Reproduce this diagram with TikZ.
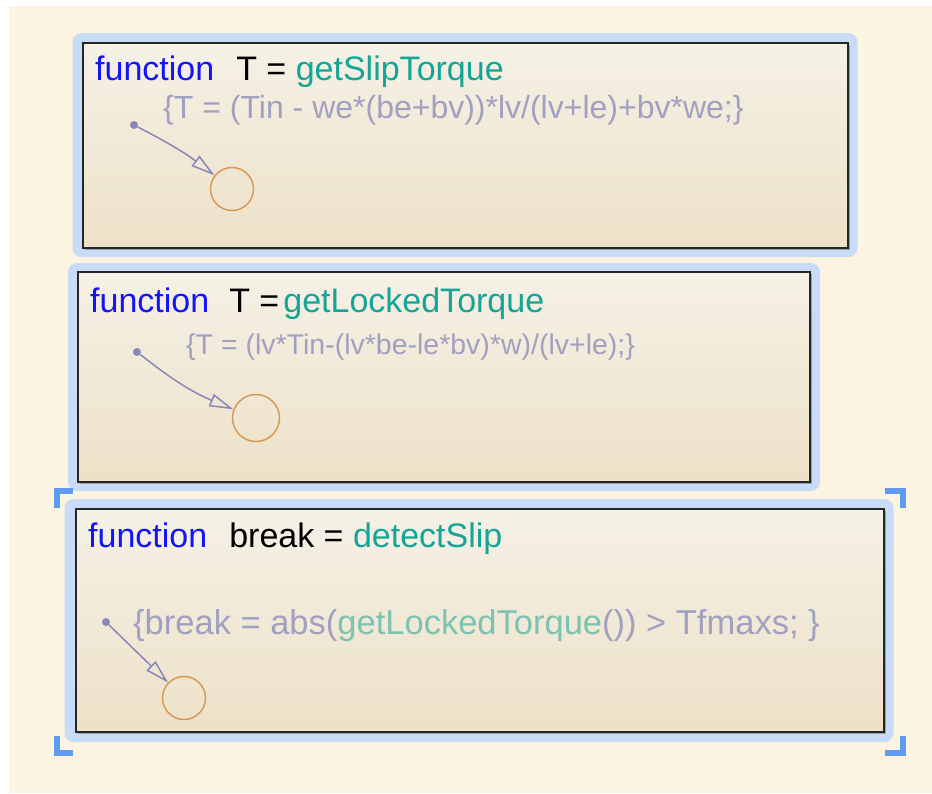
\documentclass[tikz,border=0pt]{standalone}
\usepackage{fontspec}
\setmainfont{Liberation Sans}
\definecolor{cream}{RGB}{253,243,225}
\definecolor{halo}{RGB}{200,220,247}
\definecolor{boxtop}{RGB}{245,241,230}
\definecolor{boxbot}{RGB}{237,225,200}
\definecolor{fnblue}{RGB}{20,20,250}
\definecolor{fnteal}{RGB}{20,165,150}
\definecolor{codegray}{RGB}{160,160,192}
\definecolor{codeteal}{RGB}{125,195,178}
\definecolor{stateorange}{RGB}{215,150,80}
\definecolor{arrowgray}{RGB}{135,135,185}
\definecolor{selblue}{RGB}{95,155,240}
\usetikzlibrary{positioning,shapes,arrows.meta,shadows}

\begin{document}
\begin{tikzpicture}[
    x=1pt, y=-1pt,
    halo/.style={rectangle, fill=halo, rounded corners=9pt, inner sep=0pt},
    fnbox/.style={rectangle, draw=black!85, line width=1.6pt, top color=boxtop, bottom color=boxbot, inner sep=0pt,
        drop shadow={shadow xshift=2pt, shadow yshift=-2pt, fill=black!45, opacity=.8}},
    title/.style={anchor=base west, inner sep=0pt, font=\fontsize{34}{34}\selectfont},
    code/.style={anchor=base west, inner sep=0pt, text=codegray},
    state/.style={circle, draw=stateorange, line width=1.4pt, minimum size=43pt, inner sep=0pt},
    initdot/.style={circle, fill=arrowgray, minimum size=8pt, inner sep=0pt},
    trans/.style={draw=arrowgray, line width=1.5pt, -{Triangle[open,length=24pt,width=13pt]}},
    selmark/.style={draw=selblue, line width=6pt}
]
\useasboundingbox (0,0) rectangle (932,793);
\fill[cream] (9,6) rectangle (932,793);

% getSlipTorque
\node[halo, minimum width=785pt, minimum height=224pt] (halo1) at (465,145) {};
\node[fnbox, minimum width=765pt, minimum height=205pt] (slip) at (465.5,145.5) {};
\node[title] (slipT) at (95,80) {\textcolor{fnblue}{function}\hspace{22pt}T = \textcolor{fnteal}{getSlipTorque}};
\node[code, font=\fontsize{32}{32}\selectfont] (slipC) at (163,118) {\{T = (Tin - we*(be+bv))*lv/(lv+le)+bv*we;\}};
\node[initdot] (dot1) at (134,125) {};
\node[state] (s1) at (232,189) {};
\draw[trans] (dot1) to[bend left=5] (s1);

% getLockedTorque
\node[halo, minimum width=752pt, minimum height=228pt] (halo2) at (444,377) {};
\node[fnbox, minimum width=732pt, minimum height=210pt] (locked) at (444,377) {};
\node[title] (lockedT) at (90,312) {\textcolor{fnblue}{function}\hspace{20pt}T =\hspace{4pt}\textcolor{fnteal}{getLockedTorque}};
\node[code, font=\fontsize{28.5}{28.5}\selectfont] (lockedC) at (186,354) {\{T = (lv*Tin-(lv*be-le*bv)*w)/(lv+le);\}};
\node[initdot] (dot2) at (137,352) {};
\node[state, minimum size=47pt] (s2) at (256,418) {};
\draw[trans] (dot2) to[bend right=8] (s2);

% detectSlip
\node[halo, minimum width=829pt, minimum height=243pt] (halo3) at (479,620.5) {};
\node[fnbox, minimum width=808pt, minimum height=223pt] (detect) at (480,620.5) {};
\node[title] (detectT) at (88,547) {\textcolor{fnblue}{function}\hspace{22pt}break = \textcolor{fnteal}{detectSlip}};
\node[code, font=\fontsize{34.5}{34.5}\selectfont] (detectC) at (133,634) {\{break = abs(\textcolor{codeteal}{getLockedTorque}()) > Tfmaxs; \}};
\node[initdot] (dot3) at (106,622) {};
\node[state] (s3) at (184,698) {};
\draw[trans] (dot3) -- (s3);

% selection marks
\draw[selmark] (57,508) -- (57,491) -- (73,491);
\draw[selmark] (885,491) -- (903,491) -- (903,508);
\draw[selmark] (57,736) -- (57,753) -- (73,753);
\draw[selmark] (885,753) -- (903,753) -- (903,736);

\end{tikzpicture}
\end{document}
